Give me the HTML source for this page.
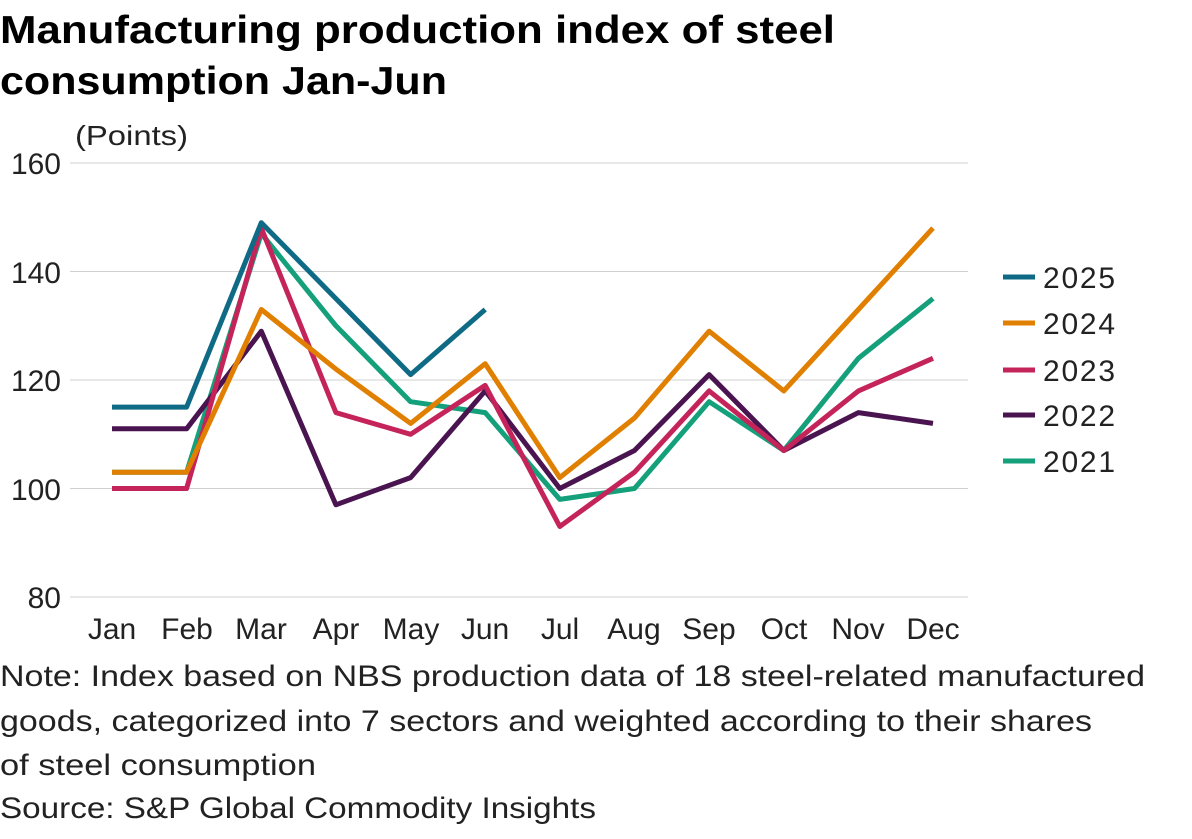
<!DOCTYPE html>
<html><head><meta charset="utf-8"><style>
html,body{margin:0;padding:0;background:#fff;}
body{width:1192px;height:834px;overflow:hidden;font-family:"Liberation Sans",sans-serif;}
</style></head><body>
<svg width="1192" height="834" xmlns="http://www.w3.org/2000/svg" font-family="Liberation Sans, sans-serif">
<text x="0" y="43" font-size="39" font-weight="bold" fill="#000" textLength="835" lengthAdjust="spacingAndGlyphs">Manufacturing production index of steel</text>
<text x="0" y="94" font-size="39" font-weight="bold" fill="#000" textLength="447" lengthAdjust="spacingAndGlyphs">consumption Jan-Jun</text>
<text x="75" y="145" font-size="28" fill="#222" textLength="113" lengthAdjust="spacingAndGlyphs">(Points)</text>
<g stroke="#d0d0d0" stroke-width="1">
<line x1="70" y1="163" x2="968" y2="163"/>
<line x1="70" y1="271.5" x2="968" y2="271.5"/>
<line x1="70" y1="380" x2="968" y2="380"/>
<line x1="70" y1="488.5" x2="968" y2="488.5"/>
<line x1="70" y1="597" x2="968" y2="597"/>
</g>
<g font-size="30" fill="#222" text-anchor="end">
<text x="61" y="174">160</text><text x="61" y="283">140</text><text x="61" y="391">120</text><text x="61" y="500">100</text><text x="61" y="608">80</text>
</g>
<g font-size="30" fill="#222" text-anchor="middle">
<text x="112" y="639">Jan</text><text x="187" y="639">Feb</text><text x="261" y="639">Mar</text><text x="336" y="639">Apr</text><text x="411" y="639">May</text><text x="485" y="639">Jun</text><text x="560" y="639">Jul</text><text x="634" y="639">Aug</text><text x="709" y="639">Sep</text><text x="784" y="639">Oct</text><text x="858" y="639">Nov</text><text x="933" y="639">Dec</text>
</g>
<g fill="none" stroke-width="5" stroke-linejoin="round">
<polyline id="p21" stroke="#13a07a" points=""/>
<polyline id="p22" stroke="#4a1450" points=""/>
<polyline id="p23" stroke="#c4245a" points=""/>
<polyline id="p24" stroke="#e07f00" points=""/>
<polyline id="p25" stroke="#0f6b85" points=""/>
</g>
<g stroke-width="5">
<line x1="1003" y1="277" x2="1035" y2="277" stroke="#0f6b85"/>
<line x1="1003" y1="323" x2="1035" y2="323" stroke="#e07f00"/>
<line x1="1003" y1="370" x2="1035" y2="370" stroke="#c4245a"/>
<line x1="1003" y1="415" x2="1035" y2="415" stroke="#4a1450"/>
<line x1="1003" y1="461" x2="1035" y2="461" stroke="#13a07a"/>
</g>
<g font-size="30" fill="#222">
<text x="1043" y="288" textLength="72">2025</text><text x="1043" y="334" textLength="72">2024</text><text x="1043" y="381" textLength="72">2023</text><text x="1043" y="426" textLength="72">2022</text><text x="1043" y="472" textLength="72">2021</text>
</g>
<g font-size="30" fill="#222" lengthAdjust="spacingAndGlyphs">
<text x="0" y="686" textLength="1145" lengthAdjust="spacingAndGlyphs">Note: Index based on NBS production data of 18 steel-related manufactured</text>
<text x="0" y="731" textLength="1092" lengthAdjust="spacingAndGlyphs">goods, categorized into 7 sectors and weighted according to their shares</text>
<text x="0" y="775" textLength="316" lengthAdjust="spacingAndGlyphs">of steel consumption</text>
<text x="0" y="818" textLength="596" lengthAdjust="spacingAndGlyphs">Source: S&amp;P Global Commodity Insights</text>
</g>
</svg>
<script>
var d={p25:[115,115,149,135,121,133],p24:[103,103,133,122,112,123,102,113,129,118,133,148],p23:[100,100,148,114,110,119,93,103,118,107,118,124],p22:[111,111,129,97,102,118,100,107,121,107,114,112],p21:[103,103,147,130,116,114,98,100,116,107,124,135]};
for(var k in d){var s=d[k].map(function(v,i){return (112+i*74.64).toFixed(1)+","+(597-(v-80)*5.425).toFixed(1)}).join(" ");document.getElementById(k).setAttribute("points",s);}
</script>
</body></html>
